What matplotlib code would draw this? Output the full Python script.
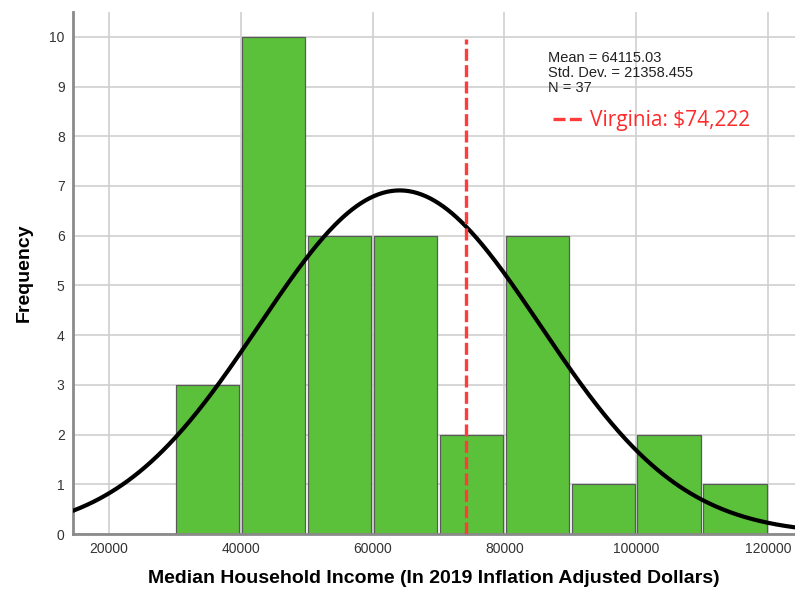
import numpy as np
import matplotlib
matplotlib.use("Agg")
import matplotlib.pyplot as plt

# Data
bin_edges = [30000, 40000, 50000, 60000, 70000, 80000, 90000, 100000, 110000, 120000]
counts = [3, 10, 6, 6, 2, 6, 1, 2, 1]
mean_val = 64115.03
std_val = 21358.455
n_obs = 37
virginia_val = 74222
stats_lines = ["Mean = 64115.03", "Std. Dev. = 21358.455", "N = 37"]
virginia_label = "Virginia: $74,222"
x_ticks = [20000, 40000, 60000, 80000, 100000, 120000]
y_ticks = list(range(0, 11))

fig = plt.figure(figsize=(7.95, 5.9), dpi=100)
ax = fig.add_axes([0.0918, 0.0949, 0.9082, 0.8848])

xmin, xmax = 14540, 124100
ax.set_xlim(xmin, xmax)
ax.set_ylim(0, 10.5)

# grid
ax.set_axisbelow(True)
ax.grid(True, color="#cfcfcf", linewidth=1.2)

# bars
lefts = np.array(bin_edges[:-1])
widths = np.diff(bin_edges)
gap = 400
ax.bar(lefts + gap / 2, counts, width=widths - gap, align="edge",
       color="#5cc13a", edgecolor="#5a5a5a", linewidth=0.9, zorder=2)

# normal curve
bw = bin_edges[1] - bin_edges[0]
xs = np.linspace(xmin, xmax, 500)
ys = n_obs * bw / (std_val * np.sqrt(2 * np.pi)) * np.exp(-0.5 * ((xs - mean_val) / std_val) ** 2)
ax.plot(xs, ys, color="black", linewidth=3, zorder=4, solid_capstyle="round")

# Virginia line
vline, = ax.plot([virginia_val, virginia_val], [0, 9.95], color="#ff3b3b",
                 linewidth=2.4, linestyle=(0, (3.6, 1.3)), zorder=5, label=virginia_label)

# stats text
ax.text(0.658, 0.925, "\n".join(stats_lines), transform=ax.transAxes,
        fontsize=10.5, family="Liberation Sans", color="#222222",
        va="top", ha="left", linespacing=1.08, zorder=6)

leg = ax.legend(handles=[vline], loc="upper left", bbox_to_anchor=(0.653, 0.8285),
                frameon=False, labelcolor="#ff2a2a",
                handlelength=1.45, handletextpad=0.35, borderaxespad=0,
                prop={"family": "Open Sans", "size": 15})

# ticks
ax.set_xticks(x_ticks)
ax.set_xticklabels([str(t) for t in x_ticks], fontsize=10, family="Liberation Sans", color="#333333")
ax.set_yticks(y_ticks)
ax.set_yticklabels([str(t) for t in y_ticks], fontsize=10, family="Liberation Sans", color="#333333")
ax.tick_params(length=0, pad=6)

for s in ["top", "right"]:
    ax.spines[s].set_visible(False)
for s in ["left", "bottom"]:
    ax.spines[s].set_color("#8a8a8a")
    ax.spines[s].set_linewidth(2)

ax.set_xlabel("Median Household Income (In 2019 Inflation Adjusted Dollars)",
              fontsize=14, fontweight="bold", family="Liberation Sans", labelpad=10)
ax.set_ylabel("Frequency", fontsize=14, fontweight="bold", family="Liberation Sans", labelpad=12)

fig.savefig("out.png", dpi=100)
